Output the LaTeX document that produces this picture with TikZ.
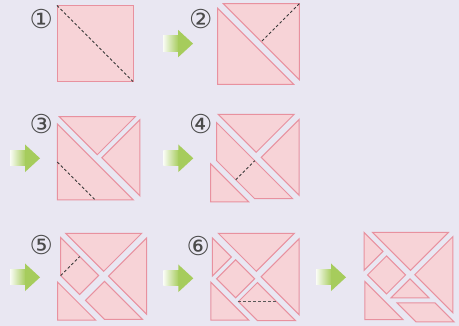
\documentclass[tikz,border=0pt]{standalone}
\usepackage{fontspec}
\newfontfamily\symfont{DejaVu Sans}
\definecolor{bgc}{HTML}{E9E7F2}
\definecolor{piecefill}{HTML}{F7D3D7}
\definecolor{pieceline}{HTML}{E8919F}
\definecolor{arrgreen}{HTML}{A6CC5C}
\definecolor{numgray}{HTML}{4A4A4A}
\begin{document}
\begin{tikzpicture}[x=1pt,y=-1pt,
  piece/.style={fill=piecefill,draw=pieceline,line width=1pt,line join=miter},
  cutline/.style={draw=black!78,dash pattern=on 2.8pt off 2.2pt,line width=0.9pt},
  num/.style={text=numgray,font=\symfont\fontsize{26}{26}\selectfont,inner sep=0pt},
  tgsquare/.pic={\path[piece] (0,0) rectangle (76,76);},
  tgll/.pic={\path[piece] (0,0)--(0,76)--(76,76)--cycle;},
  tgur/.pic={\path[piece] (0,0)--(76,0)--(76,76)--cycle;},
  tgtop/.pic={\path[piece] (0,0)--(76,0)--(38,38)--cycle;},
  tgright/.pic={\path[piece] (76,0)--(76,76)--(38,38)--cycle;},
  tgtrap/.pic={\path[piece] (0,0)--(0,38)--(38,76)--(76,76)--cycle;},
  tgcorner/.pic={\path[piece] (0,38)--(0,76)--(38,76)--cycle;},
  tgul/.pic={\path[piece] (0,0)--(0,38)--(19,57)--(38,38)--cycle;},
  tglr/.pic={\path[piece] (19,57)--(38,38)--(76,76)--(38,76)--cycle;},
  tgsmall/.pic={\path[piece] (0,0)--(0,38)--(19,19)--cycle;},
  tgsq/.pic={\path[piece] (0,38)--(19,19)--(38,38)--(19,57)--cycle;},
  tgmid/.pic={\path[piece] (38,38)--(19,57)--(57,57)--cycle;},
  tgpar/.pic={\path[piece] (19,57)--(57,57)--(76,76)--(38,76)--cycle;},
  greenarrow/.pic={
    \shade[left color=arrgreen!6!white,right color=arrgreen] (0,-7.6) rectangle (15.6,7.6);
    \fill[arrgreen] (15,-13.8)--(30,0)--(15,13.8)--cycle;}
]
\fill[bgc] (0,0) rectangle (459,326);

% panel 1
\pic at (57,5.5) {tgsquare};
\coordinate (p1a) at (57,5.5);
\coordinate (p1b) at (133,81.5);
\draw[cutline] (p1a) -- (p1b);
\node[num] (n1) at (41.3,19) {①};

% panel 2
\pic at (163,43.6) {greenarrow};
\pic at (217.7,8.3) {tgll};
\pic at (223.3,3.7) {tgur};
\coordinate (p2a) at (299.3,3.7);
\coordinate (p2b) at (261.3,41.7);
\draw[cutline] (p2a) -- (p2b);
\node[num] (n2) at (200.7,19) {②};

% panel 3
\pic at (10,158.3) {greenarrow};
\pic at (57.3,124) {tgll};
\pic at (59.3,116.7) {tgtop};
\pic at (63.9,119.8) {tgright};
\coordinate (p3a) at (57.3,162);
\coordinate (p3b) at (95.3,200);
\draw[cutline] (p3a) -- (p3b);
\node[num] (n3) at (41.3,124) {③};

% panel 4
\pic at (163.3,158.3) {greenarrow};
\pic at (216.7,122.7) {tgtrap};
\pic at (218.2,114.3) {tgtop};
\pic at (223.2,119.4) {tgright};
\pic at (210.7,125.9) {tgcorner};
\coordinate (p4a) at (235.7,179.7);
\coordinate (p4b) at (254.7,160.7);
\draw[cutline] (p4a) -- (p4b);
\node[num] (n4) at (200.7,124) {④};

% panel 5
\pic at (10,277.3) {greenarrow};
\pic at (60.7,237.5) {tgul};
\pic at (65.7,233.3) {tgtop};
\pic at (70.5,238.2) {tgright};
\pic at (66.5,243.3) {tglr};
\pic at (57.7,244.2) {tgcorner};
\coordinate (p5a) at (60.7,275.5);
\coordinate (p5b) at (79.7,256.5);
\draw[cutline] (p5a) -- (p5b);
\node[num] (n5) at (41.3,245) {⑤};

% panel 6
\pic at (163.3,278.3) {greenarrow};
\pic at (212.3,238) {tgsmall};
\pic at (218.3,233.3) {tgtop};
\pic at (223.1,238.8) {tgright};
\pic at (216.6,240.8) {tgsq};
\pic at (219.4,244.6) {tglr};
\pic at (210.8,244.2) {tgcorner};
\coordinate (p6a) at (238.4,301.6);
\coordinate (p6b) at (276.4,301.6);
\draw[cutline,draw=black!65] (p6a) -- (p6b);
\node[num] (n6) at (198.3,246) {⑥};

% panel 7
\pic at (316,277.3) {greenarrow};
\pic at (364,232.3) {tgsmall};
\pic at (372.5,232.3) {tgtop};
\pic at (376.8,236.7) {tgright};
\pic at (367.6,236.9) {tgsq};
\pic at (372,240.8) {tgmid};
\pic at (378.2,246) {tgpar};
\pic at (364.9,243.6) {tgcorner};
\end{tikzpicture}
\end{document}
